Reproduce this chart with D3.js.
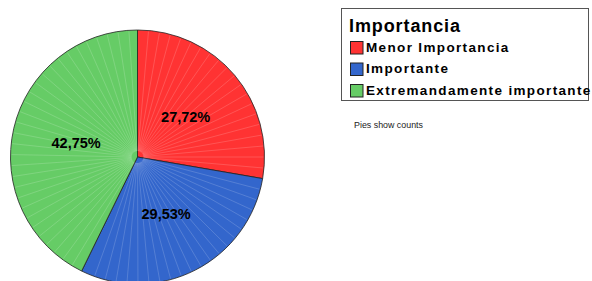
<!DOCTYPE html>
<html lang="es">
<head>
<meta charset="utf-8">
<title>Importancia</title>
<script src="https://cdn.jsdelivr.net/npm/d3@7"></script>
<style>
  body { margin: 0; background: #fff; }
  svg text { font-family: "Liberation Sans", Arial, sans-serif; }
</style>
</head>
<body>
<script>
// data
var categories = ["Menor Importancia", "Importante", "Extremandamente importante"];
var percents = [27.72, 29.53, 42.75];
var labels = ["27,72%", "29,53%", "42,75%"];
var colors = ["#ff3333", "#3366cc", "#66cc66"];
var legendTitle = "Importancia";
var note = "Pies show counts";

var w = 592, h = 281;
var cx = 137.5, cy = 157, r = 127;

var svg = d3.select("body").append("svg")
  .attr("width", w)
  .attr("height", h);

var pie = d3.pie().sort(null).value(function (d) { return d; });
var arcs = pie(percents);

var arc = d3.arc().innerRadius(0).outerRadius(r);
var labelArc = d3.arc().innerRadius(0).outerRadius(126);

var g = svg.append("g").attr("transform", "translate(" + cx + "," + cy + ")");

g.selectAll("path.slice")
  .data(arcs)
  .enter()
  .append("path")
  .attr("class", "slice")
  .attr("d", arc)
  .attr("fill", function (d, i) { return colors[i]; })
  .attr("stroke", "#222")
  .attr("stroke-width", 0.8);

// faint radial texture lines (start a bit off centre so the middle doesn't wash out)
var step = 5 * Math.PI / 180;
arcs.forEach(function (a) {
  var angs = d3.range(a.startAngle + step, a.endAngle - step / 3, step);
  g.selectAll(null)
    .data(angs)
    .enter()
    .append("line")
    .attr("x1", function (t) { return 6 * Math.sin(t); })
    .attr("y1", function (t) { return -6 * Math.cos(t); })
    .attr("x2", function (t) { return (r - 1) * Math.sin(t); })
    .attr("y2", function (t) { return -(r - 1) * Math.cos(t); })
    .attr("stroke", "#fff")
    .attr("stroke-opacity", 0.28)
    .attr("stroke-width", 0.6);
});

// percent labels
g.selectAll("text.pct")
  .data(arcs)
  .enter()
  .append("text")
  .attr("class", "pct")
  .attr("x", function (d) { return labelArc.centroid(d)[0]; })
  .attr("y", function (d) { return labelArc.centroid(d)[1] + 5.5; })
  .attr("text-anchor", "middle")
  .attr("font-size", "14.5px")
  .attr("font-weight", "bold")
  .attr("fill", "#000")
  .text(function (d, i) { return labels[i]; });

// legend
var lg = svg.append("g");
lg.append("rect")
  .attr("x", 341.5).attr("y", 8.5)
  .attr("width", 247).attr("height", 92)
  .attr("fill", "#fff")
  .attr("stroke", "#555")
  .attr("stroke-width", 1);

lg.append("text")
  .attr("x", 349).attr("y", 32)
  .attr("font-size", "18px")
  .attr("font-weight", "bold")
  .attr("letter-spacing", "0.9px")
  .text(legendTitle);

var items = lg.selectAll("g.item")
  .data(categories)
  .enter()
  .append("g")
  .attr("class", "item")
  .attr("transform", function (d, i) { return "translate(350," + (41 + i * 21.5) + ")"; });

items.append("rect")
  .attr("x", 0.5).attr("y", 0.5)
  .attr("width", 12.5).attr("height", 12.5)
  .attr("fill", function (d, i) { return colors[i]; })
  .attr("stroke", "#222")
  .attr("stroke-width", 1);

items.append("text")
  .attr("x", 16).attr("y", 10.5)
  .attr("font-size", "13.5px")
  .attr("font-weight", "bold")
  .attr("letter-spacing", "1.35px")
  .text(function (d) { return d; });

svg.append("text")
  .attr("x", 354).attr("y", 128)
  .attr("font-size", "9px")
  .attr("fill", "#222")
  .attr("textLength", 69)
  .attr("lengthAdjust", "spacingAndGlyphs")
  .text(note);
</script>
</body>
</html>
